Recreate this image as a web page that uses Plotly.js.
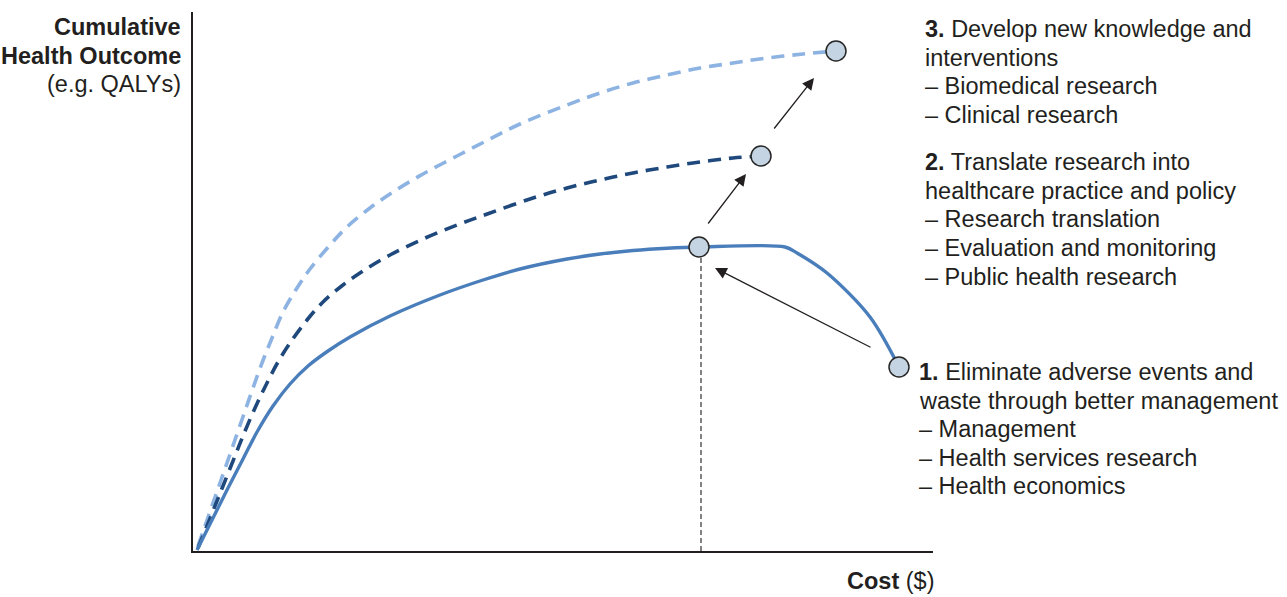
<!DOCTYPE html>
<html>
<head>
<meta charset="utf-8">
<script src="https://cdn.plot.ly/plotly-3.0.1.min.js"></script>
<style>html,body{margin:0;padding:0;background:#fff;}#chart{width:1287px;height:597px;}</style>
</head>
<body>
<div id="chart"></div>
<script>
// Conceptual units: cost (x) and cumulative health outcome (y)
const currentCost    = [4,20,35,50,64,80,97,115,135,157,197,247,290,327,374,407,440,474,506,592,604,634,677,706];
const currentOutcome = [1,33,63,92,119,145,167,185,200,214,235,256,271,282,292,297,300.5,302.8,304,304,298,278,234,184];

const translateCost    = [5,20,30,42,50,62,74,85,97,114,130,150,170,197,230,264,297,340,374,407,440,474,507,540,568];
const translateOutcome = [3,40,65,95,115,143,168,189,208,231,249,266,280,296,312,326,338,353,363,371,378,384,389,393,395];

const knowledgeCost    = [5,12,20,27,35,44,52,60,69,79,90,104,117,137,154,177,200,230,264,297,327,374,407,440,474,507,540,574,610,643];
const knowledgeOutcome = [5,25,48,68,91,117,140,163,188,213,239,263,282,306,324,343,359,377,395,412,427,446,458,468,476,483,488,493,497,500];

const pointCost    = [506,568,643,706];
const pointOutcome = [304,395,500,184];

const optimumCost = [508,508];
const optimumOutcome = [0,300];

// arrows: [tailCost, tailOutcome] -> [tipCost, tipOutcome]
const arrowTails = [[679,203],[514,326],[580,421]];
const arrowTips  = [[522,283],[553,377],[621,473]];

const yTitleLines = ["<b>Cumulative</b>","<b>Health Outcome</b>","(e.g. QALYs)"];
const block3 = ["<b>3.</b> Develop new knowledge and","interventions","– Biomedical research","– Clinical research"];
const block2 = ["<b>2.</b> Translate research into","healthcare practice and policy","– Research translation","– Evaluation and monitoring","– Public health research"];
const block1 = ["<b>1.</b> Eliminate adverse events and","waste through better management","– Management","– Health services research","– Health economics"];
const xTitle = "<b>Cost</b> ($)";

const W = 1287, H = 597;
const M = {l:193, r:354, t:12, b:46};
const PW = W - M.l - M.r, PH = H - M.t - M.b;
const px2x = px => (px - M.l) / PW;
const py2y = py => (H - M.b - py) / PH;

const textColor = '#231f20';
const font = {family: 'Liberation Sans, Arial, sans-serif', size: 23.5, color: textColor};

const traces = [
  {x: knowledgeCost, y: knowledgeOutcome, mode: 'lines', line: {color: '#8db3e2', width: 3.6, dash: '13px,8px', shape: 'spline', smoothing: 1}, hoverinfo: 'skip'},
  {x: translateCost, y: translateOutcome, mode: 'lines', line: {color: '#1f497d', width: 3.6, dash: '13px,8px', shape: 'spline', smoothing: 1}, hoverinfo: 'skip'},
  {x: currentCost, y: currentOutcome, mode: 'lines', line: {color: '#4a7ebb', width: 3.4, shape: 'spline', smoothing: 0.9}, hoverinfo: 'skip'},
  {x: optimumCost, y: optimumOutcome, mode: 'lines', line: {color: '#4d4d4d', width: 1.4, dash: '5px,3px'}, hoverinfo: 'skip'},
  {x: pointCost, y: pointOutcome, mode: 'markers', marker: {size: 20, color: '#c5d4e2', line: {color: '#262626', width: 1.5}}, hoverinfo: 'skip', cliponaxis: false}
];

const annotations = [];
arrowTips.forEach((tip, i) => {
  annotations.push({
    x: tip[0], y: tip[1], xref: 'x', yref: 'y',
    ax: arrowTails[i][0], ay: arrowTails[i][1], axref: 'x', ayref: 'y',
    text: '', showarrow: true, arrowhead: 2, arrowsize: 1.8, arrowwidth: 1.3,
    arrowcolor: textColor, standoff: 0, startstandoff: 0
  });
});

function addLines(lines, pxX, pyStart, step, anchor) {
  lines.forEach((t, i) => {
    annotations.push({
      text: t, xref: 'paper', yref: 'paper',
      x: px2x(pxX), y: py2y(pyStart + i * step),
      xanchor: anchor, yanchor: 'middle', showarrow: false, font: font, align: anchor
    });
  });
}
addLines(yTitleLines, 183, 27, 28.6, 'right');
addLines(block3, 923, 29, 28.6, 'left');
addLines(block2, 923, 162, 28.7, 'left');
addLines(block1, 917, 372, 28.6, 'left');
addLines([xTitle], 936, 581, 0, 'right');

const axisCommon = {showgrid: false, zeroline: false, showticklabels: false, ticks: '', showline: true, linecolor: textColor, linewidth: 2, fixedrange: true};

const layout = {
  width: W, height: H,
  margin: M,
  paper_bgcolor: '#ffffff', plot_bgcolor: '#ffffff',
  showlegend: false,
  xaxis: Object.assign({range: [0, PW]}, axisCommon),
  yaxis: Object.assign({range: [0, PH]}, axisCommon),
  annotations: annotations
};

Plotly.newPlot('chart', traces, layout, {displayModeBar: false, staticPlot: true});
</script>
</body>
</html>
